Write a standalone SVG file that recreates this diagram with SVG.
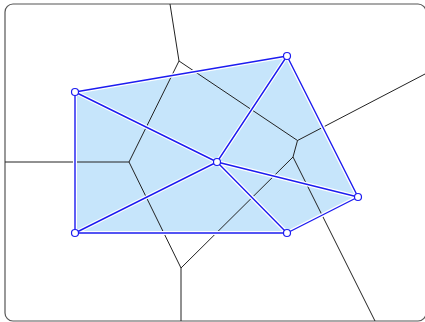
<svg xmlns="http://www.w3.org/2000/svg" width="425" height="322" viewBox="0 0 425 322">
<style>
.frame{fill:#fff;stroke:#555;stroke-width:1.2}
.hull{fill:#c6e5fb;stroke:none}
.vor line{stroke:#222;stroke-width:1;fill:none}
.halo{stroke:#fff;stroke-width:4;fill:none;stroke-linecap:round;stroke-linejoin:round}
.edge{stroke:#1c1cf0;stroke-width:1.4;fill:none;stroke-linecap:round;stroke-linejoin:round}
.pt{fill:#fff;stroke:#1c1cf0;stroke-width:1.2}
</style>
<rect class="frame" x="5" y="4" width="421" height="317" rx="8"/>
<polygon class="hull" points="75,92 287,56 358,197 287,233 75,233"/>
<g id="voronoi" class="vor">
<line x1="170" y1="4" x2="179" y2="61"/>
<line x1="179" y1="61" x2="129" y2="162"/>
<line x1="179" y1="61" x2="297.5" y2="140.5"/>
<line x1="297.5" y1="140.5" x2="425" y2="74"/>
<line x1="297.5" y1="140.5" x2="293" y2="157"/>
<line x1="293" y1="157" x2="181" y2="268"/>
<line x1="293" y1="157" x2="375" y2="321"/>
<line x1="129" y1="162" x2="5" y2="162"/>
<line x1="129" y1="162" x2="181" y2="268"/>
<line x1="181" y1="268" x2="181" y2="321"/>
</g>
<g id="connectors">
<g class="halo">
<polygon points="75,92 287,56 358,197 287,233 75,233"/>
<line x1="217" y1="162" x2="75" y2="92"/>
<line x1="217" y1="162" x2="287" y2="56"/>
<line x1="217" y1="162" x2="358" y2="197"/>
<line x1="217" y1="162" x2="287" y2="233"/>
<line x1="217" y1="162" x2="75" y2="233"/>
</g>
<g class="edge">
<polygon points="75,92 287,56 358,197 287,233 75,233"/>
<line x1="217" y1="162" x2="75" y2="92"/>
<line x1="217" y1="162" x2="287" y2="56"/>
<line x1="217" y1="162" x2="358" y2="197"/>
<line x1="217" y1="162" x2="287" y2="233"/>
<line x1="217" y1="162" x2="75" y2="233"/>
</g>
</g>
<g id="pA"><circle class="pt" cx="75" cy="92" r="3.5"/></g>
<g id="pB"><circle class="pt" cx="287" cy="56" r="3.5"/></g>
<g id="pC"><circle class="pt" cx="217" cy="162" r="3.5"/></g>
<g id="pD"><circle class="pt" cx="358" cy="197" r="3.5"/></g>
<g id="pE"><circle class="pt" cx="287" cy="233" r="3.5"/></g>
<g id="pF"><circle class="pt" cx="75" cy="233" r="3.5"/></g>
</svg>
